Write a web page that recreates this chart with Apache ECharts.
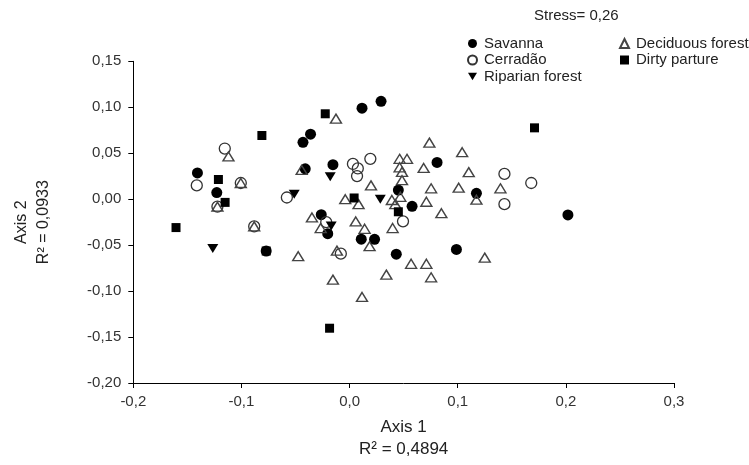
<!DOCTYPE html>
<html><head><meta charset="utf-8">
<script src="https://cdn.jsdelivr.net/npm/echarts@6/dist/echarts.min.js"></script>
<style>html,body{margin:0;padding:0;background:#fff}#c{width:749px;height:465px}</style>
</head><body><div id="c"></div>
<script>
const xTickLabels = ['-0,2','-0,1','0,0','0,1','0,2','0,3'];
const yTickLabels = ['-0,20','-0,15','-0,10','-0,05','0,00','0,05','0,10','0,15'];

const savanna = [
  [0.0115,0.099],[0.0291,0.1065],[-0.0361,0.0707],[-0.0431,0.0618],[-0.0154,0.0375],
  [-0.041,0.033],[-0.1407,0.0286],[-0.1228,0.0072],[-0.0262,-0.0169],[-0.0202,-0.0375],
  [0.0108,-0.0435],[0.0231,-0.0437],[-0.0771,-0.0564],[0.0809,0.04],[0.0451,0.0099],
  [0.1173,0.0064],[0.0578,-0.0078],[0.2019,-0.0171],[0.0432,-0.0598],[0.0988,-0.0547]
];
const cerradao = [
  [-0.1154,0.0551],[0.0192,0.0439],[0.0031,0.0383],[0.0076,0.0334],[0.0069,0.0251],
  [-0.1413,0.015],[-0.1006,0.0176],[-0.1222,-0.0081],[-0.058,0.0018],[-0.0882,-0.0296],
  [-0.0216,-0.025],[-0.0081,-0.0593],[0.1432,0.0275],[0.168,0.0176],[0.1432,-0.0054],
  [0.0494,-0.0241]
];
const riparian = [
  [-0.0512,0.0054],[-0.0179,0.0243],[0.0284,0.0],[-0.017,-0.0293],[-0.1265,-0.0536]
];
const deciduous = [
  [-0.0126,0.0876],[-0.112,0.0465],[-0.0443,0.0318],[-0.1006,0.0176],[-0.1222,-0.0081],
  [-0.0882,-0.0296],[0.0198,0.015],[-0.004,0.0],[0.0083,-0.0054],[-0.0348,-0.0199],
  [-0.0267,-0.0314],[0.0057,-0.0242],[0.0139,-0.0322],[0.0185,-0.0512],[-0.0475,-0.062],
  [-0.0117,-0.056],[-0.0154,-0.0875],[0.0115,-0.1064],[0.0738,0.0615],[0.1041,0.0511],
  [0.0463,0.0439],[0.0531,0.0439],[0.0685,0.034],[0.0463,0.0347],[0.0485,0.0297],
  [0.1102,0.0294],[0.0485,0.0206],[0.0754,0.0118],[0.1009,0.0125],[0.1395,0.0118],
  [0.1173,-0.0006],[0.0391,-0.0009],[0.0423,-0.0054],[0.0469,0.0026],[0.071,-0.0028],
  [0.0849,-0.0153],[0.0398,-0.0314],[0.125,-0.0636],[0.0569,-0.0703],[0.071,-0.0703],
  [0.034,-0.0821],[0.0754,-0.085]
];
const dirty = [
  [-0.0225,0.0929],[-0.0811,0.0693],[0.171,0.0776],[-0.1213,0.0214],[-0.1151,-0.0035],
  [0.0042,0.0013],[0.0451,-0.0137],[-0.1605,-0.0309],[-0.0771,-0.0564],[-0.0185,-0.1404]
];

const FONT = '"Liberation Sans", Arial, sans-serif';
const DOWN_TRI = 'path://M0,0 L10,0 L5,8.5 Z';
const legendText = {fontSize: 15, color: '#222', fontFamily: FONT, padding: [0,0,0,2]};
const chart = echarts.init(document.getElementById('c'), null, {renderer:'canvas'});
chart.setOption({
  animation: false,
  backgroundColor: '#fff',
  textStyle: {fontFamily: FONT},
  title: {
    text: 'Stress= 0,26', left: 529, top: 3,
    textStyle: {fontSize: 15, fontWeight: 'normal', color: '#222', fontFamily: FONT}
  },
  legend: [
    {
      data: ['Savanna','Cerradão','Riparian forest'],
      orient: 'vertical', left: 462, top: 31, itemWidth: 9, itemHeight: 9, itemGap: 1.5,
      textStyle: legendText
    },
    {
      data: ['Deciduous forest','Dirty parture'],
      orient: 'vertical', left: 614, top: 31, itemWidth: 9, itemHeight: 9, itemGap: 1.5,
      textStyle: legendText
    }
  ],
  grid: {left: 133.3, right: 75, top: 61.3, bottom: 76.6, containLabel: false},
  xAxis: {
    type: 'value', min: -0.2, max: 0.3, interval: 0.1,
    name: 'Axis 1\nR² = 0,4894', nameLocation: 'middle', nameGap: 33,
    nameTextStyle: {fontSize: 17, lineHeight: 22, color: '#222', fontFamily: FONT},
    axisLine: {onZero: false, lineStyle: {color: '#000', width: 1}},
    axisTick: {show: true, inside: false, length: 5, lineStyle: {color: '#000'}},
    axisLabel: {fontSize: 15, color: '#333', margin: 11, fontFamily: FONT,
      formatter: v => xTickLabels[Math.round((v + 0.2) / 0.1)]},
    splitLine: {show: false}
  },
  yAxis: {
    type: 'value', min: -0.2, max: 0.15, interval: 0.05,
    name: 'Axis 2\nR² = 0,0933', nameLocation: 'middle', nameGap: 79, nameRotate: 90,
    nameTextStyle: {fontSize: 16, lineHeight: 22, color: '#222', fontFamily: FONT},
    axisLine: {onZero: false, lineStyle: {color: '#000', width: 1}},
    axisTick: {show: true, inside: false, length: 5, lineStyle: {color: '#000'}},
    axisLabel: {fontSize: 15, color: '#333', margin: 12, fontFamily: FONT,
      formatter: v => yTickLabels[Math.round((v + 0.2) / 0.05)]},
    splitLine: {show: false}
  },
  series: [
    {name: 'Savanna', type: 'scatter', data: savanna, symbol: 'circle', symbolSize: 11,
      itemStyle: {color: '#000', opacity: 1}},
    {name: 'Cerradão', type: 'scatter', data: cerradao, symbol: 'circle', symbolSize: 11,
      itemStyle: {color: 'rgba(255,255,255,0)', borderColor: '#333', borderWidth: 1.3, opacity: 1}},
    {name: 'Riparian forest', type: 'scatter', data: riparian, symbol: DOWN_TRI,
      symbolSize: [11, 9], itemStyle: {color: '#000', opacity: 1}},
    {name: 'Deciduous forest', type: 'scatter', data: deciduous, symbol: 'triangle',
      symbolSize: [11, 9], itemStyle: {color: 'rgba(255,255,255,0)', borderColor: '#444', borderWidth: 1.4, opacity: 1}},
    {name: 'Dirty parture', type: 'scatter', data: dirty, symbol: 'rect', symbolSize: 9,
      itemStyle: {color: '#000', opacity: 1}}
  ]
});
</script></body></html>
